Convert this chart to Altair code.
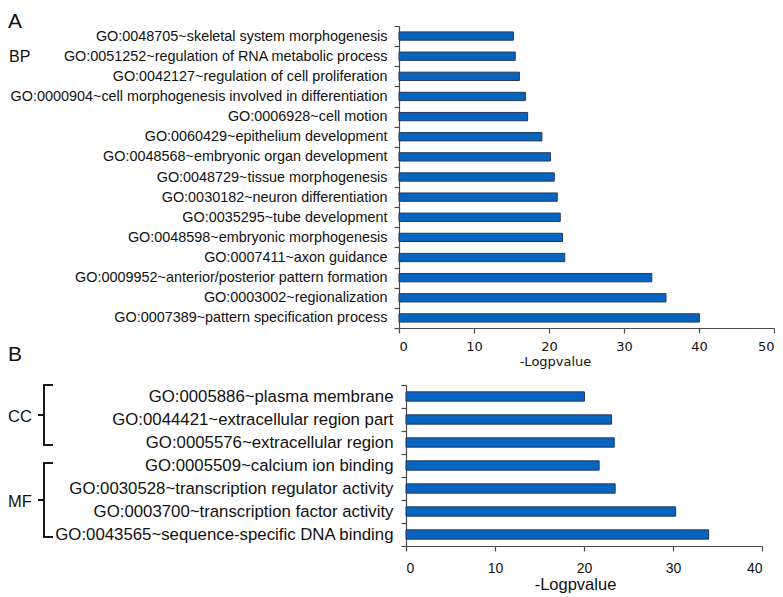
import altair as alt
import pandas as pd

# ---------------- data ----------------
bp_terms = [
    "GO:0048705~skeletal system morphogenesis",
    "GO:0051252~regulation of RNA metabolic process",
    "GO:0042127~regulation of cell proliferation",
    "GO:0000904~cell morphogenesis involved in differentiation",
    "GO:0006928~cell motion",
    "GO:0060429~epithelium development",
    "GO:0048568~embryonic organ development",
    "GO:0048729~tissue morphogenesis",
    "GO:0030182~neuron differentiation",
    "GO:0035295~tube development",
    "GO:0048598~embryonic morphogenesis",
    "GO:0007411~axon guidance",
    "GO:0009952~anterior/posterior pattern formation",
    "GO:0003002~regionalization",
    "GO:0007389~pattern specification process",
]
bp_values = [15.25, 15.5, 16.05, 16.85, 17.15, 19.05, 20.2, 20.7, 21.1, 21.5,
             21.8, 22.1, 33.7, 35.6, 40.05]

b_terms = [
    "GO:0005886~plasma membrane",
    "GO:0044421~extracellular region part",
    "GO:0005576~extracellular region",
    "GO:0005509~calcium ion binding",
    "GO:0030528~transcription regulator activity",
    "GO:0003700~transcription factor activity",
    "GO:0043565~sequence-specific DNA binding",
]
b_values = [20.05, 23.1, 23.4, 21.7, 23.5, 30.3, 34.0]

ticks_a = [0, 10, 20, 30, 40, 50]
ticks_b = [0, 10, 20, 30, 40]

# ---------------- style ----------------
FONT = "Liberation Sans"
FONT_A_AXIS = "DejaVu Sans"
BAR_FILL = "#0765C0"
BAR_STROKE = "#23395A"
AXIS_COLOR = "#4a4a4a"
TEXT_COLOR = "#111111"
B_SHIFT = 7  # panel B's axis sits a little to the right of panel A's

df_a = pd.DataFrame({"term": bp_terms, "value": bp_values})
df_b = pd.DataFrame({"term": b_terms, "value": b_values})
one = pd.DataFrame({"k": [0]})  # single row for annotation marks


def ydef(terms, font_size, pad, offset=0):
    axis = alt.Axis(tickBand="extent", labelFont=FONT, labelFontSize=font_size,
                    labelColor=TEXT_COLOR, labelPadding=pad, tickSize=5,
                    domainColor=AXIS_COLOR, tickColor=AXIS_COLOR, labelLimit=600,
                    domainWidth=1.2, tickWidth=1.2, offset=offset)
    return dict(scale=alt.Scale(domain=terms, paddingInner=0, paddingOuter=0),
                title=None, axis=axis)


A_LABEL_SIZE = 14.4
B_LABEL_SIZE = 16.8

# ---------------- Panel A ----------------
bars_a = alt.Chart(df_a).mark_bar(size=8.3, fill=BAR_FILL, stroke=BAR_STROKE, strokeWidth=1).encode(
    y=alt.Y("term:N", **ydef(bp_terms, A_LABEL_SIZE, 7)),
    x=alt.X("value:Q", scale=alt.Scale(domain=[0, 50], nice=False),
            axis=alt.Axis(values=ticks_a, title="-Logpvalue", labelFont=FONT_A_AXIS,
                          labelFontSize=13, labelColor=TEXT_COLOR, labelPadding=7,
                          tickSize=5, domainColor=AXIS_COLOR, tickColor=AXIS_COLOR,
                          domainWidth=1.2, tickWidth=1.2,
                          titleFont=FONT_A_AXIS, titleFontSize=13, titleFontWeight="normal",
                          titleColor=TEXT_COLOR, titleX=156, titleY=27,
                          titleAlign="center", titleBaseline="top")),
)

letter_a = alt.Chart(one).mark_text(text="A", align="left", baseline="top", fontSize=21,
                                    fontWeight="normal", font=FONT, color=TEXT_COLOR).encode(
    x=alt.value(-391), y=alt.value(-15))
letter_b = alt.Chart(one).mark_text(text="B", align="left", baseline="top", fontSize=21,
                                    fontWeight="normal", font=FONT, color=TEXT_COLOR).encode(
    x=alt.value(-391), y=alt.value(318))
bp_text = alt.Chart(one).mark_text(text="BP", align="left", baseline="middle", fontSize=16,
                                   fontWeight="normal", font=FONT, color=TEXT_COLOR, dy=1).encode(
    x=alt.value(-390), y=alt.Y(datum=bp_terms[1], type="nominal", **ydef(bp_terms, A_LABEL_SIZE, 7)))

panel_a = alt.layer(bars_a, letter_a, letter_b, bp_text).properties(width=375, height=302)

# ---------------- Panel B ----------------
bars_b = alt.Chart(df_b).mark_bar(size=9.3, fill=BAR_FILL, stroke=BAR_STROKE, strokeWidth=1).encode(
    y=alt.Y("term:N", **ydef(b_terms, B_LABEL_SIZE, 8, -B_SHIFT)),
    x=alt.X("value:Q", scale=alt.Scale(domain=[0, 40], nice=False, range=[B_SHIFT, B_SHIFT + 356]),
            axis=alt.Axis(values=ticks_b, title="-Logpvalue", labelFont=FONT,
                          labelFontSize=14, labelColor=TEXT_COLOR, labelPadding=10,
                          tickSize=5, domainColor=AXIS_COLOR, tickColor=AXIS_COLOR,
                          domainWidth=1.2, tickWidth=1.2,
                          titleFont=FONT, titleFontSize=16.5, titleFontWeight="normal",
                          titleColor=TEXT_COLOR, titleX=169 + B_SHIFT, titleY=30,
                          titleAlign="center", titleBaseline="top")),
)


def yd(term):
    return alt.Y(datum=term, type="nominal", **ydef(b_terms, B_LABEL_SIZE, 8, -B_SHIFT))


def bracket(first, last, top_off, bot_off, mid_term, mid_off, label, label_term, label_dy):
    base = alt.Chart(one)
    xv = -362 + B_SHIFT
    vert = base.mark_rule(color="black", strokeWidth=1.8, yOffset=top_off, y2Offset=bot_off).encode(
        x=alt.value(xv), y=yd(first), y2=alt.Y2(datum=last))
    top = base.mark_rule(color="black", strokeWidth=1.8, yOffset=top_off).encode(
        x=alt.value(xv - 0.9), x2=alt.value(xv + 9), y=yd(first))
    bot = base.mark_rule(color="black", strokeWidth=1.8, yOffset=bot_off).encode(
        x=alt.value(xv - 0.9), x2=alt.value(xv + 9), y=yd(last))
    mid = base.mark_rule(color="black", strokeWidth=1.8, yOffset=mid_off).encode(
        x=alt.value(xv - 6), x2=alt.value(xv), y=yd(mid_term))
    txt = base.mark_text(text=label, align="left", baseline="middle", fontSize=16.5,
                         fontWeight="normal", font=FONT, color=TEXT_COLOR, dy=label_dy).encode(
        x=alt.value(-398 + B_SHIFT), y=yd(label_term))
    return [vert, top, bot, mid, txt]


cc = bracket(b_terms[0], b_terms[2], -11.5, 2.5, b_terms[1], -4.5, "CC", b_terms[1], -2.5)
mf = bracket(b_terms[3], b_terms[6], -2.5, 2.5, b_terms[4], 11.5, "MF", b_terms[4], 13.5)

panel_b = alt.layer(bars_b, *cc, *mf).properties(width=356 + B_SHIFT, height=161)

chart = alt.vconcat(panel_a, panel_b, spacing=9).properties(
    padding={"left": 0, "right": 0, "top": 3, "bottom": 0}).configure_view(
    stroke=None).configure_axis(grid=False)

chart.save("out.html", embed_options={"renderer": "svg", "actions": False})
